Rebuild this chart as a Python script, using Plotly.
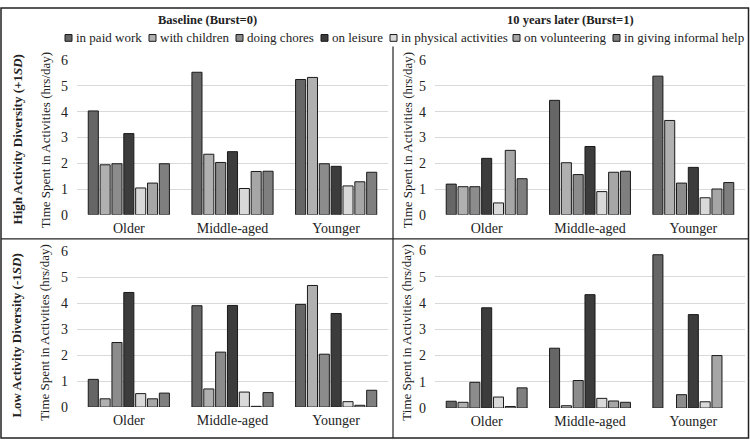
import plotly.graph_objects as go

# ---------------- data ----------------
categories = ["Older", "Middle-aged", "Younger"]
activities = ["in paid work", "with children", "doing chores", "on leisure",
              "in physical activities", "on volunteering", "in giving informal help"]
colors = ["#666666", "#b0b0b0", "#8c8c8c", "#3c3c3c", "#d9d9d9", "#a6a6a6", "#7f7f7f"]

# rows = activities, columns = categories (Older, Middle-aged, Younger)
baseline_high = [
    [4.03, 5.53, 5.25],
    [1.94, 2.35, 5.33],
    [1.98, 2.03, 1.98],
    [3.15, 2.45, 1.88],
    [1.04, 1.02, 1.12],
    [1.23, 1.68, 1.28],
    [1.98, 1.69, 1.65],
]
later_high = [
    [1.19, 4.44, 5.38],
    [1.09, 2.02, 3.66],
    [1.09, 1.56, 1.23],
    [2.19, 2.65, 1.84],
    [0.46, 0.90, 0.66],
    [2.50, 1.65, 1.00],
    [1.40, 1.69, 1.25],
]
baseline_low = [
    [1.07, 3.91, 3.96],
    [0.32, 0.70, 4.69],
    [2.49, 2.12, 2.04],
    [4.42, 3.92, 3.61],
    [0.52, 0.58, 0.21],
    [0.32, 0.03, 0.07],
    [0.54, 0.56, 0.65],
]
later_low = [
    [0.26, 2.28, 5.84],
    [0.22, 0.09, None],
    [0.98, 1.05, 0.51],
    [3.82, 4.32, 3.56],
    [0.42, 0.37, 0.24],
    [0.06, 0.27, 2.00],
    [0.77, 0.22, None],
]
y_ticks = [0, 1, 2, 3, 4, 5, 6]

col_titles = ["Baseline (Burst=0)", "10 years later (Burst=1)"]
row_titles = ["High Activity Diversity (+1<i>SD</i>)", "Low Activity Diversity (-1<i>SD</i>)"]
y_title = "Time Spent in Activities (hrs/day)"

# ---------------- layout helpers ----------------
W, H = 750, 447
FONT = "Liberation Serif, Times New Roman, serif"
TXT = "#222222"

def px(x):
    return x / W

def py(y):
    return 1 - y / H

panels = [
    (baseline_high, "x", "y", (77, 388), (55, 215)),
    (later_high, "x2", "y2", (435, 745), (55, 215)),
    (baseline_low, "x3", "y3", (77, 388), (253, 414)),
    (later_low, "x4", "y4", (435, 745), (252, 415)),
]

fig = go.Figure()
for data, xa, ya, _, _ in panels:
    for i, act in enumerate(activities):
        fig.add_trace(go.Bar(
            x=categories, y=data[i], name=act, xaxis=xa, yaxis=ya,
            marker=dict(color=colors[i], line=dict(color="#1a1a1a", width=1)),
            showlegend=False,
        ))

layout = dict(
    width=W, height=H,
    margin=dict(l=0, r=0, t=0, b=0),
    paper_bgcolor="white", plot_bgcolor="white",
    barmode="group", bargap=0.2, bargroupgap=0.15,
    font=dict(family=FONT, color=TXT),
    showlegend=False,
)
for k, (_, xa, ya, xd, yd) in enumerate(panels):
    sfx = "" if k == 0 else str(k + 1)
    layout["xaxis" + sfx] = dict(
        domain=[px(xd[0]), px(xd[1])], anchor=ya, showgrid=False, showline=False,
        zeroline=False, ticks="", tickfont=dict(size=14, family=FONT, color=TXT),
        ticklabelstandoff=3, fixedrange=True,
    )
    layout["yaxis" + sfx] = dict(
        domain=[py(yd[1]), py(yd[0])], anchor=xa, range=[0, 6],
        tickvals=y_ticks, showgrid=True, gridcolor="#d9d9d9", gridwidth=1,
        zeroline=False, showline=False, ticks="",
        tickfont=dict(size=14, family=FONT, color=TXT), ticklabelstandoff=8,
        fixedrange=True,
    )
fig.update_layout(**layout)

# ---------------- annotations ----------------
ann = []
for t, cx in zip(col_titles, [207, 570]):
    ann.append(dict(text="<b>%s</b>" % t, x=px(cx), y=py(13), xref="paper", yref="paper",
                    showarrow=False, xanchor="center", yanchor="middle",
                    font=dict(size=12.5, family=FONT, color=TXT)))
for t, cy in zip(row_titles, [137, 340]):
    ann.append(dict(text="<b>%s</b>" % t, x=px(17), y=py(cy), xref="paper", yref="paper",
                    showarrow=False, textangle=-90, xanchor="center", yanchor="middle",
                    font=dict(size=13, family=FONT, color=TXT)))
for cx, cy in [(45, 138), (407, 138), (45, 337), (407, 337)]:
    ann.append(dict(text=y_title, x=px(cx), y=py(cy), xref="paper", yref="paper",
                    showarrow=False, textangle=-90, xanchor="center", yanchor="middle",
                    font=dict(size=13, family=FONT, color=TXT)))

# legend (manual, compact like the original)
leg_x = [65, 149, 236, 321, 390, 513, 613]
leg_y = 32
shapes = []
for lx, act, col in zip(leg_x, activities, colors):
    shapes.append(dict(type="rect", xref="paper", yref="paper",
                       x0=px(lx), x1=px(lx + 7), y0=py(leg_y + 3.5), y1=py(leg_y - 3.5),
                       fillcolor=col, line=dict(color="#1a1a1a", width=1)))
    ann.append(dict(text=act, x=px(lx + 9), y=py(leg_y), xref="paper", yref="paper",
                    showarrow=False, xanchor="left", yanchor="middle",
                    font=dict(size=13, family=FONT, color=TXT)))

# frame and dividers
line = dict(color="#222222", width=1.5)
shapes.append(dict(type="rect", xref="paper", yref="paper", x0=px(1), x1=px(748.5),
                   y0=py(446), y1=py(1), line=line))
shapes.append(dict(type="line", xref="paper", yref="paper", x0=px(393), x1=px(393),
                   y0=py(41), y1=py(446), line=dict(color="#222222", width=1.2)))
shapes.append(dict(type="line", xref="paper", yref="paper", x0=px(1), x1=px(748.5),
                   y0=py(240), y1=py(240), line=dict(color="#222222", width=1.2)))

fig.update_layout(annotations=ann, shapes=shapes)
fig.write_html("out.html", config={"displayModeBar": False},
               post_script="document.body.style.margin='0';document.body.style.overflow='hidden';")
